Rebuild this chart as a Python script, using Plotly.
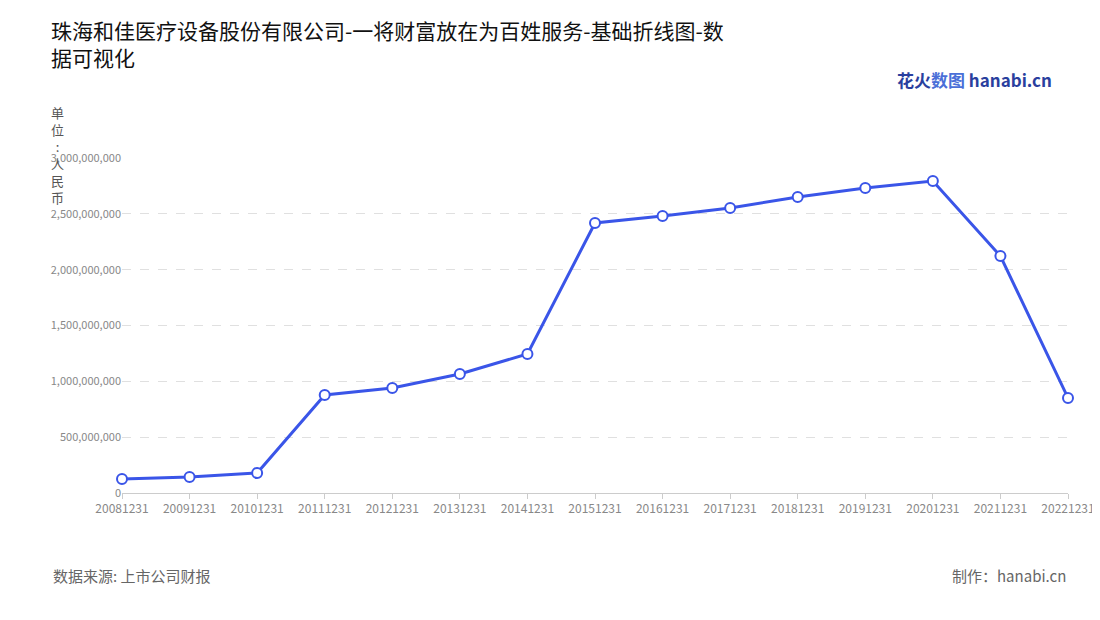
import plotly.graph_objects as go

years = ["20081231","20091231","20101231","20111231","20121231","20131231","20141231","20151231",
         "20161231","20171231","20181231","20191231","20201231","20211231","20221231"]
values = [125e6,143e6,179e6,878e6,940e6,1066e6,1245e6,2418e6,2480e6,2552e6,2651e6,2731e6,2794e6,2122e6,851e6]
tickvals = [0,500e6,1000e6,1500e6,2000e6,2500e6,3000e6]
ticktext = ["0","500,000,000","1,000,000,000","1,500,000,000","2,000,000,000","2,500,000,000","3,000,000,000"]

fig = go.Figure(go.Scatter(
    x=years, y=values, mode="lines+markers",
    line=dict(color="#3a55e8", width=3),
    marker=dict(size=10, color="white", line=dict(color="#3a55e8", width=2)),
    cliponaxis=False,
))
font = "Noto Sans CJK SC"
fig.update_layout(
    width=1100, height=620, plot_bgcolor="white", paper_bgcolor="white",
    margin=dict(l=114, r=40, t=150, b=135, autoexpand=False), showlegend=False,
    font=dict(family=font, color="#888", size=12),
    title=dict(text="珠海和佳医疗设备股份有限公司-一将财富放在为百姓服务-基础折线图-数<br>据可视化",
               x=0.039, xanchor="left", y=0.95, yanchor="top",
               font=dict(size=21, color="#111", family=font)),
    xaxis=dict(type="category", showgrid=False, showline=True, linecolor="#ccc", automargin=False,
               ticks="outside", tickcolor="#ccc", range=[0, 14], tickfont=dict(size=12, color="#888")),
    yaxis=dict(range=[0, 3000e6], tickvals=tickvals, ticktext=ticktext, showgrid=True, automargin=False,
               gridcolor="#e0e0e0", griddash="dash", zeroline=False, showline=False,
               tickfont=dict(size=11, color="#888")),
    annotations=[
        dict(text="单<br>位<br>:<br>人<br>民<br>币", xref="paper", yref="paper", x=-0.068, y=1.17,
             xanchor="center", yanchor="top", showarrow=False, font=dict(size=13, color="#555")),
        dict(text="数据来源: 上市公司财报", xref="paper", yref="paper", x=-0.075, y=-0.21,
             xanchor="left", yanchor="top", showarrow=False, font=dict(size=15, color="#666")),
        dict(text="制作：hanabi.cn", xref="paper", yref="paper", x=1.0, y=-0.21,
             xanchor="right", yanchor="top", showarrow=False, font=dict(size=15, color="#666")),
        dict(text="<b><span style='color:#2a3f9e'>花火</span><span style='color:#4a6fd8'>数图</span></b> <b style='color:#2a3f9e'>hanabi.cn</b>",
             xref="paper", yref="paper", x=0.985, y=1.19, xanchor="right", yanchor="bottom",
             showarrow=False, font=dict(size=17)),
    ],
)
fig.write_html("out.html")
